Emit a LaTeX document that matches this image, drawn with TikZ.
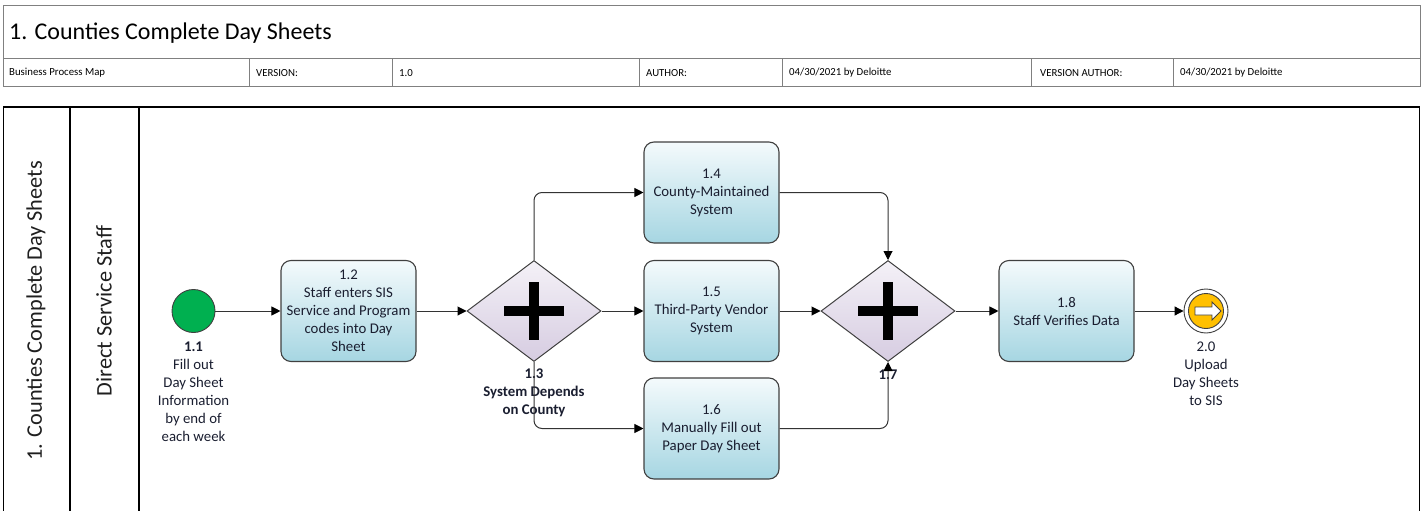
\documentclass[tikz,border=0pt]{standalone}
\usepackage{fontspec}
\setmainfont{Carlito}
\usetikzlibrary{shapes.geometric,arrows.meta}

\definecolor{hdrline}{HTML}{808080}
\definecolor{flowline}{HTML}{333333}
\definecolor{shapeline}{HTML}{404040}
\definecolor{tasktop}{HTML}{F4FAFC}
\definecolor{taskbot}{HTML}{A6D6E2}
\definecolor{gatetop}{HTML}{F4F1F7}
\definecolor{gatebot}{HTML}{D6CCE1}
\definecolor{startgreen}{HTML}{00B050}
\definecolor{endyellow}{HTML}{FFC000}
\definecolor{inktext}{HTML}{1A1E30}

\newcommand{\taskfont}{\fontsize{14.8}{18}\selectfont}
\newcommand{\hdrfont}{\fontsize{10.8}{12}\selectfont}
\newcommand{\lanefont}{\fontsize{22.3}{26}\selectfont}

\begin{document}
\begin{tikzpicture}[x=1pt,y=-1pt,
  hdrtext/.style={anchor=west, inner sep=0pt, font=\hdrfont, text=black},
  lanetext/.style={rotate=90, inner sep=0pt, font=\lanefont, text=black!88},
  task/.style={draw=shapeline, line width=1.1pt, rounded corners=10pt,
    top color=tasktop, bottom color=taskbot, minimum width=135pt,
    minimum height=101pt, align=center, font=\taskfont, text=inktext, inner sep=0pt},
  gateway/.style={diamond, draw=shapeline, line width=1pt, top color=gatetop,
    bottom color=gatebot, minimum width=134pt, minimum height=101pt, inner sep=0pt},
  evlabel/.style={anchor=north, align=center, font=\taskfont, text=inktext, inner sep=0pt},
  flow/.style={draw=flowline, line width=1pt, rounded corners=8pt,
    -{Triangle[length=9pt,width=9pt,color=black]}}
]
\useasboundingbox (0,0) rectangle (1427,511);

% ---- header table ----
\draw[hdrline, line width=1pt] (3.5,6) rectangle (1420,86);
\draw[hdrline, line width=1pt] (3.5,59) -- (1420,59);
\foreach \x in {249,392,639,782,1031,1173}
  \draw[hdrline, line width=1pt] (\x,59) -- (\x,86);
\node[anchor=west, inner sep=0pt, font=\fontsize{24}{28}\selectfont] (title) at (9,33)
  {1. Counties Complete Day Sheets};
\node[hdrtext] (h1) at (9,73) {Business Process Map};
\node[hdrtext] (h2) at (256,73) {VERSION:};
\node[hdrtext] (h3) at (399,73) {1.0};
\node[hdrtext] (h4) at (646,73) {AUTHOR:};
\node[hdrtext] (h5) at (789,73) {04/30/2021 by Deloitte};
\node[hdrtext] (h6) at (1040,73) {VERSION AUTHOR:};
\node[hdrtext] (h7) at (1180,73) {04/30/2021 by Deloitte};

% ---- pool and lane ----
\draw[line width=1.3pt] (3.5,511) -- (3.5,107) -- (1419.5,107) -- (1419.5,511);
\draw[line width=1.3pt] (70,107) -- (70,511);
\draw[line width=1.3pt] (139,107) -- (139,511);
\node[lanetext] (pool) at (36,311) {1. Counties Complete Day Sheets};
\node[lanetext] (lane) at (104,311) {Direct Service Staff};

% ---- events ----
\node[circle, draw=shapeline, line width=0.9pt, fill=startgreen, minimum size=43pt,
  inner sep=0pt] (s11) at (193.5,311) {};
\node[circle, draw=shapeline, line width=0.9pt, fill=white, minimum size=44pt,
  inner sep=0pt] (e20) at (1206,311) {};
\fill[endyellow, draw=shapeline, line width=0.9pt] (e20.center) circle (17.5pt);
\draw[draw=shapeline, fill=white, line width=0.9pt]
  ([shift={(-11,-4)}]e20.center) -- ++(17,0) -- ++(0,-5) -- ++(9,9)
  -- ++(-9,9) -- ++(0,-5) -- ++(-17,0) -- cycle;

% ---- tasks ----
\node[task] (t12) at (348.5,311) {1.2\\Staff enters SIS\\Service and Program\\codes into Day\\Sheet};
\node[task] (t14) at (711.5,192.5) {1.4\\County-Maintained\\System};
\node[task] (t15) at (711.5,311) {1.5\\Third-Party Vendor\\System};
\node[task] (t16) at (711.5,428.5) {1.6\\Manually Fill out\\Paper Day Sheet};
\node[task] (t18) at (1066.5,311) {1.8\\Staff Verifies Data};

% ---- parallel gateways ----
\node[gateway] (g13) at (534,311) {};
\node[gateway] (g17) at (888,311) {};
\foreach \g in {g13,g17} {
  \fill[black] ([shift={(-5,-29)}]\g.center) rectangle ([shift={(5,29)}]\g.center);
  \fill[black] ([shift={(-30,-5)}]\g.center) rectangle ([shift={(30,5)}]\g.center);
}

% ---- labels ----
\node[evlabel] (l11) at (193.5,341.5) {\textbf{1.1}\\Fill out\\Day Sheet\\Information\\by end of\\each week};
\node[evlabel, font=\taskfont\bfseries] (l13) at (534,368.5) {1.3\\System Depends\\on County};
\node[evlabel, font=\taskfont\bfseries] (l17) at (888,369.5) {1.7};
\node[evlabel] (l20) at (1206,341.5) {2.0\\Upload\\Day Sheets\\to SIS};

% ---- sequence flows ----
\draw[flow] (s11.east) -- (t12.west);
\draw[flow] (t12.east) -- (g13.west);
\draw[flow] (g13.north) |- (t14.west);
\draw[flow] (g13.east) -- (t15.west);
\draw[flow] (g13.south) |- (t16.west);
\draw[flow] (t14.east) -| (g17.north);
\draw[flow] (t15.east) -- (g17.west);
\draw[flow] (t16.east) -| (g17.south);
\draw[flow] (g17.east) -- (t18.west);
\draw[flow] (t18.east) -- (e20.west);
\end{tikzpicture}
\end{document}
